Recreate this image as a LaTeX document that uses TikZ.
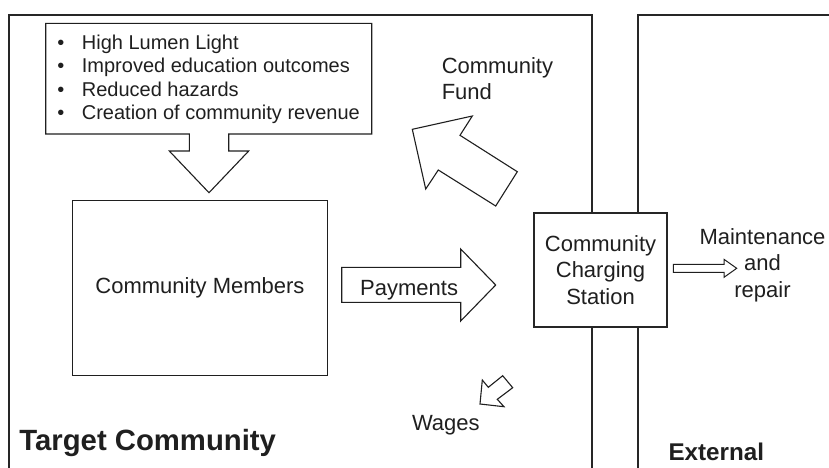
\documentclass[tikz,border=0pt]{standalone}
\usepackage{fontspec}
\setmainfont{Liberation Sans}
\newcommand{\listmark}{\makebox[24.5pt][l]{\textbullet}}
\begin{document}
\begin{tikzpicture}[x=1pt,y=-1pt,
  ink/.style={draw=black!88},
  frameline/.style={draw=black!85,line width=2.2pt},
  thin/.style={ink,line width=1.1pt,line join=miter},
  blockarrow/.style={thin,fill=white},
  txt/.style={inner sep=0pt,text=black!88,font=\fontsize{22}{26.5}\selectfont},
  bullettxt/.style={inner sep=0pt,text=black!88,font=\fontsize{20}{23.4}\selectfont,anchor=base west},
  boxnode/.style={thin,fill=white,inner sep=0pt,text=black!88,font=\fontsize{22}{26.5}\selectfont,align=center}
]
\useasboundingbox (0,0) rectangle (829,467);

% the two areas: target community and external
\draw[frameline] (9,470) -- (9,15) -- (592,15) -- (592,470);
\draw[frameline] (638,470) -- (638,15) -- (835,15);

% benefits box with its downward arrow, as one outline
\draw[thin] (189.3,134) -- (45.7,134) -- (45.7,23.3) -- (371.7,23.3) -- (371.7,134)
  -- (228.7,134) -- (228.7,151) -- (248.7,151) -- (209,192.7) -- (169.3,151)
  -- (189.3,151) -- cycle;
\node[bullettxt] (b1) at (57.2,49)    {\listmark High Lumen Light};
\node[bullettxt] (b2) at (57.2,72.7)  {\listmark Improved education outcomes};
\node[bullettxt] (b3) at (57.2,96.3)  {\listmark Reduced hazards};
\node[bullettxt] (b4) at (57.2,119.6) {\listmark Creation of community revenue};

% community members
\node[boxnode,minimum width=254.6pt,minimum height=175pt] (members) at (200,288.2) {Community Members};

% community fund arrow
\draw[blockarrow] (412.3,129.3) -- (472.3,116) -- (460,135.3) -- (517.3,171.7)
  -- (495.7,206) -- (438.3,170) -- (425.7,189) -- cycle;
\node[txt,anchor=west,align=left] (fund) at (441.6,78.5) {Community\\Fund};

% payments arrow
\draw[blockarrow] (341.7,267.3) -- (460.7,267.3) -- (460.7,249) -- (495.7,285)
  -- (460.7,321) -- (460.7,302.3) -- (341.7,302.3) -- cycle;
\node[txt,anchor=base west] (payments) at (360,295) {Payments};

% wages arrow
\draw[blockarrow] (480,404) -- (482.3,380) -- (488.3,387.3) -- (502.7,375.7)
  -- (512.7,387.7) -- (497.3,399.3) -- (504,406.7) -- cycle;
\node[txt,anchor=base west] (wages) at (411.8,430) {Wages};

% charging station on the boundary
\node[boxnode,line width=2.2pt,draw=black!85,minimum width=132.4pt,minimum height=114pt] (station) at (600.5,269.7) {Community\\Charging\\Station};

% maintenance arrow
\draw[blockarrow,line width=1pt] (673.3,264.3) -- (724,264.3) -- (724,259.3) -- (736.7,268.3)
  -- (724,277.3) -- (724,272.3) -- (673.3,272.3) -- cycle;
\node[txt,align=center] (maint) at (762.5,265.2) {Maintenance\\and\\repair};

% area titles
\node[inner sep=0pt,anchor=base west,text=black!88,font=\fontsize{29.3}{34}\selectfont\bfseries] (target) at (19.2,450.7) {Target Community};
\node[inner sep=0pt,anchor=base west,text=black!88,font=\fontsize{24.2}{28}\selectfont\bfseries] (external) at (668.3,460.7) {External};
\end{tikzpicture}
\end{document}
